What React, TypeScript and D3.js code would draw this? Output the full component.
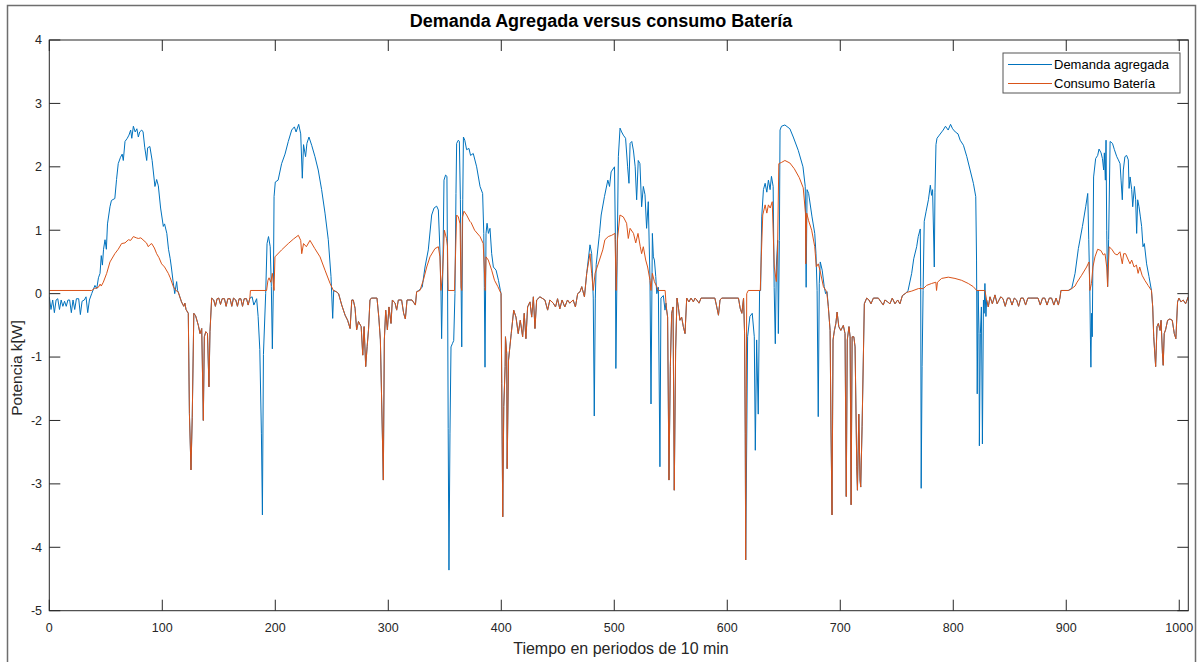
import React from "react";
import * as d3 from "d3";

type Pt = [number, number];

// Eje horizontal: periodos de 10 minutos (7 días = 1008 periodos)
const xTicks = [0, 100, 200, 300, 400, 500, 600, 700, 800, 900, 1000];
const yTicks = [-5, -4, -3, -2, -1, 0, 1, 2, 3, 4];

// ---- Tramos nocturnos: la demanda agregada coincide con el consumo de la batería ----
const noche1: Pt[] = [[117,-0.13],[119,-0.2],[120,-0.15],[121,-0.25],[123,-0.31],[124,-1.89],[125.4,-2.78],[126.5,-1.95],[127.9,-0.31],[129.5,-0.35],[131.9,-0.5],[133.4,-0.63],[134.9,-0.55],[136.3,-2.0],[137.2,-0.68],[138.5,-0.6],[140,-0.63],[141.3,-1.47],[142.2,-0.6],[143.7,-0.07],[145.5,-0.1],[147,-0.2],[148.5,-0.08],[150,-0.07],[151.5,-0.17],[153,-0.08],[155,-0.08],[156.5,-0.2],[158,-0.08],[160,-0.08],[161.5,-0.2],[163,-0.07],[165,-0.1],[166.5,-0.2],[168,-0.08],[169.5,-0.08],[171,-0.2],[172.5,-0.08],[174.5,-0.08],[176,-0.18],[177.5,-0.07]];
const noche2: Pt[] = [[254,0.03],[256,0.0],[258.8,-0.18],[261.8,-0.34],[264,-0.42],[266.2,-0.55],[267.7,-0.1],[269,-0.1],[270.6,-0.23],[272,-0.57],[273.6,-0.44],[276,-0.52],[277.4,-0.97],[278.6,-0.52],[280,-1.15],[281.3,-0.83],[282.5,-0.57],[283.8,-0.1],[285,-0.07],[290,-0.07],[291.6,-0.37],[293,-0.73],[295.6,-2.94],[296.5,-0.73],[297.7,-0.26],[299.2,-0.57],[300.6,-0.21],[302.4,-0.47],[303.6,-0.1],[306,-0.15],[307.4,-0.26],[308.9,-0.1],[311.8,-0.1],[313.6,-0.31],[315.1,-0.4],[316.6,-0.1],[321,-0.1],[324,-0.18],[325.1,0.03]];
const noche3: Pt[] = [[400.4,-1.42],[401.3,-3.52],[402.2,-1.78],[403.4,-1.15],[403.7,-0.68],[404.8,-0.94],[405.2,-2.76],[406.4,-1.05],[407.6,-0.84],[408.8,-0.63],[411,-0.26],[413,-0.37],[415,-0.63],[416.8,-0.42],[418.9,-0.68],[420.3,-0.31],[421.8,-0.71],[423.3,-0.21],[425.4,-0.13],[426.9,-0.37],[428.4,-0.05],[429.8,-0.55],[431.3,-0.1],[434.2,-0.05],[438.6,-0.1],[441,-0.26],[443,-0.1],[446,-0.15],[448,-0.21],[449.8,-0.08],[451.8,-0.24],[453.8,-0.1],[456.2,-0.21],[458.6,-0.1],[460.6,-0.15],[463.6,-0.1],[465.6,-0.21],[467.6,0.0],[469.7,0.03],[471.2,0.11],[473.6,-0.05]];
const noche4: Pt[] = [[546,-0.21],[547.2,-0.37],[548.4,-2.94],[549.6,-1.15],[550.8,-0.31],[552,-0.21],[553.1,-3.1],[554.3,-0.89],[555.5,-0.07],[556.7,-0.21],[558.1,-0.42],[559.6,-0.37],[561.1,-0.52],[562.6,-0.63],[564.1,-0.07],[566.1,-0.13],[567.9,-0.07],[570,-0.13],[571.5,-0.07],[573,-0.1],[575,-0.15],[576.8,-0.07],[589,-0.07],[590.7,-0.21],[592.2,-0.34],[593.6,-0.1],[595.1,-0.07],[609.9,-0.07],[611.4,-0.23],[612.9,-0.31],[614.4,-0.07],[615.3,-0.63],[615.9,-2.2],[616.3,-4.2]];
const noche5: Pt[] = [[689.4,-0.2],[691,-0.58],[691.8,-2.15],[692.7,-3.49],[693.6,-0.73],[694.8,-0.58],[696.1,-0.47],[697.2,-0.29],[698.7,-0.52],[700.5,-0.58],[702.7,-0.5],[704.2,-0.63],[705.3,-3.2],[706.2,-0.73],[707.7,-0.52],[708.7,-0.68],[709.6,-3.33],[710.5,-0.68],[712,-0.68],[713.1,-0.84],[714.6,-2.73],[715.2,-3.1],[716.4,-1.9],[717.5,-2.94],[718.1,-3.05],[719.3,-2.1],[721.3,-0.16],[723.4,-0.07],[725.4,-0.1],[727.2,-0.16],[729.3,-0.07],[733.7,-0.07],[736,-0.13],[738.1,-0.18],[739.5,-0.1],[741.9,-0.13],[744,-0.16],[746,-0.07],[748.4,-0.16],[750.8,-0.1],[752.8,-0.16],[755,-0.03],[757.4,0.0],[758.8,0.02]];
const noche6: Pt[] = [[829.5,-0.1],[831,-0.21],[832.5,-0.05],[834.6,-0.16],[836.9,-0.02],[838.8,-0.16],[840.5,-0.1],[842,-0.05],[844,-0.08],[846,-0.2],[848,-0.07],[850,-0.07],[852,-0.18],[854,-0.07],[856,-0.1],[857.8,-0.2],[859.8,-0.07],[862,-0.07],[864,-0.18],[866,-0.07],[868,-0.07],[875,-0.07],[877,-0.18],[879,-0.07],[881,-0.07],[883,-0.18],[885,-0.07],[887,-0.07],[889,-0.18],[891,-0.07],[893,-0.18],[894.4,-0.07],[895.3,0.05],[901.8,0.05],[904.8,0.08]];
const noche7: Pt[] = [[976.5,-0.21],[977.4,-0.68],[979.1,-1.15],[980.3,-0.52],[981.5,-0.47],[983,-0.58],[983.9,-0.42],[985.1,-0.94],[985.8,-1.13],[986.7,-0.63],[987.9,-0.57],[989.7,-0.42],[991.7,-0.4],[993.8,-0.42],[995.6,-0.63],[997,-0.71],[998.5,-0.13],[999.7,-0.07],[1001.5,-0.13],[1003.5,-0.1],[1005.6,-0.16],[1008,-0.05]];

// ---- Consumo de la batería durante el día ----
const bateriaInicio: Pt[] = [[0,0.05],[37.5,0.05]];
const bateriaDia1: Pt[] = [[40,0.08],[43.4,0.1],[45,0.15],[46,0.12],[47.8,0.18],[50.8,0.32],[53.7,0.5],[58,0.63],[61,0.7],[64,0.79],[67,0.8],[70,0.85],[72,0.84],[74.4,0.9],[77,0.88],[78.8,0.87],[81,0.88],[84.7,0.82],[86,0.8],[87.6,0.74],[89,0.77],[90.6,0.79],[93,0.72],[95,0.63],[97,0.57],[99.4,0.47],[102,0.42],[105.3,0.32],[107,0.25],[109.8,0.11],[112,0.05],[114,0.03]];
const bateriaDia2: Pt[] = [[178,0.05],[192.3,0.05],[193.5,0.21],[194.5,0.25],[196,0.18],[197.4,0.32],[198.9,0.05],[199.7,0.58],[205.6,0.69],[211.5,0.79],[216,0.86],[220.4,0.92],[222.5,0.84],[223.4,0.63],[225,0.79],[227.5,0.74],[230.7,0.84],[235,0.71],[239.6,0.58],[244,0.37],[248.5,0.16],[251.4,0.05]];
const bateriaDia3: Pt[] = [[328,0.05],[331,0.21],[334,0.42],[336.9,0.58],[341.3,0.71],[344.3,0.74],[345.7,0.58],[346.6,0.05],[348,0.3],[349.6,1.0],[351.5,0.87],[352.4,0.75],[353,0.05],[358.6,0.05],[360.5,1.24],[362,1.21],[363.5,1.1],[364.4,0.1],[365,0.05],[365.6,1.2],[367,1.3],[369.3,1.24],[372.2,1.14],[373.3,1.12],[376.4,1.0],[381.2,0.9],[384,0.79],[385.8,0.05],[386.5,0.58],[388.5,0.53],[391.5,0.37],[394,0.21],[397,0.11],[399.8,0.0]];
const bateriaDia4: Pt[] = [[475.6,0.32],[478.5,0.63],[480,0.32],[481.4,0.05],[483,0.32],[486.9,0.53],[489.8,0.69],[491.7,0.85],[494.7,0.9],[497.7,0.92],[500.6,0.95],[501.7,0.05],[502.8,0.85],[505,1.24],[508,1.21],[510.9,1.11],[512.4,0.87],[514,1.03],[517,0.95],[519,0.8],[521,0.95],[523,0.74],[524.2,0.63],[525.7,0.74],[527.8,0.53],[529.5,0.42],[531.6,0.21],[532.5,0.05],[533.7,0.32],[535.5,0.19],[537.6,0.11],[539,0.05],[545,0.05]];
const bateriaDia5: Pt[] = [[617.2,0.0],[618.6,0.05],[629.2,0.05],[630.1,0.58],[631.4,1.24],[633.5,1.4],[635,1.27],[636.4,1.4],[638,1.35],[639.8,1.45],[641.6,0.42],[643.4,0.19],[644.5,0.69],[645.6,2.05],[648.1,2.07],[651,2.1],[655.4,2.06],[659.3,1.97],[663.7,1.83],[667.2,1.67],[669.2,1.27],[669.5,0.47],[670.3,1.27],[672,1.15],[674.7,1.0],[677.4,0.74],[678.8,0.42],[680.5,0.47],[682,0.37],[685.1,0.11],[688,0.03]];
const bateriaDia6: Pt[] = [[763.2,0.04],[769.2,0.08],[773.6,0.08],[776.4,0.13],[780.8,0.16],[784.6,0.18],[785.2,0.05],[786,0.18],[789.7,0.24],[795.6,0.26],[801.5,0.24],[807.4,0.21],[813.3,0.16],[817.7,0.11],[820.7,0.05],[828,0.05]];
const bateriaDia7: Pt[] = [[907.8,0.12],[909.2,0.17],[913.6,0.29],[918,0.42],[920.1,0.5],[920.9,0.05],[922.3,0.16],[923.6,0.42],[925.4,0.58],[927.8,0.7],[930.6,0.68],[932.8,0.61],[934.3,0.63],[935.8,0.42],[936.6,0.11],[937.5,0.53],[938,0.74],[940.7,0.69],[942.8,0.63],[945.1,0.61],[947.5,0.66],[949.6,0.47],[950.8,0.63],[952.5,0.63],[954.9,0.53],[956.4,0.47],[957.9,0.53],[960,0.42],[962.1,0.45],[963.6,0.32],[965,0.42],[967.1,0.29],[969.5,0.21],[972.4,0.13],[975.4,0.05]];

// ---- Demanda agregada durante el día ----
const demandaInicio: Pt[] = [[0,-0.05],[1.5,-0.25],[3,-0.1],[4.5,-0.3],[6,-0.1],[7.5,-0.08],[9,-0.25],[10.5,-0.1],[12,-0.2],[13.5,-0.12],[15,-0.2],[16.5,-0.1],[18,-0.1],[19.5,-0.3],[21,-0.1],[22.5,-0.25],[24,-0.08],[26,-0.08],[27.5,-0.33],[29,-0.12],[31,-0.1],[32.5,-0.05],[34,-0.3],[35.5,-0.1],[37.5,0.0]];
const demandaDia1: Pt[] = [[40.4,0.13],[42,0.08],[43.5,0.25],[44.9,0.32],[46,0.6],[47,0.45],[48,0.7],[49.3,0.85],[50.5,0.7],[51.5,1.1],[53.7,1.37],[55,1.47],[58,1.5],[59.5,1.8],[61,2.05],[63,2.15],[64.5,2.2],[65.5,2.1],[67,2.4],[69,2.45],[70.5,2.5],[72,2.58],[73,2.45],[74.4,2.64],[76,2.55],[77.5,2.6],[78.8,2.47],[80,2.55],[81.8,2.58],[83,2.55],[84.5,2.3],[86.2,2.1],[87,2.3],[89,2.32],[91,2.1],[93.5,1.69],[95,1.8],[96.5,1.7],[98.5,1.35],[100.9,1.06],[102,1.1],[104,0.95],[105.5,0.7],[107,0.55],[108,0.42],[109.5,0.2],[111,0.0],[112.7,0.19],[113.5,0.05],[114,0.03]];
const demandaDia2: Pt[] = [[179.5,-0.05],[181,-0.18],[183.5,-0.08],[184.8,-0.36],[186.3,-0.88],[187.7,-2.2],[188.6,-3.49],[189.5,-0.96],[191.5,0.0],[192.7,0.79],[194,0.9],[195.5,0.74],[196.5,0.11],[197.4,-0.87],[198.3,0.11],[198.9,1.53],[200,1.76],[202.5,1.79],[205.6,2.05],[208.6,2.2],[211.5,2.4],[214.5,2.58],[216.9,2.63],[218.4,2.55],[220.7,2.67],[222.5,2.52],[223.9,1.82],[225,2.35],[226.8,2.16],[228,2.37],[229.8,2.47],[232.2,2.34],[235.1,2.16],[238,1.95],[241,1.64],[244,1.27],[246.9,0.85],[249.3,0.27],[250.8,-0.39],[251.7,0.05]];
const demandaDia3: Pt[] = [[327,0.05],[330,0.1],[332.5,0.42],[335.4,0.69],[338.4,1.24],[340.5,1.35],[342.8,1.38],[344.3,1.32],[345.7,0.69],[346.6,0.06],[347.2,-0.71],[348.4,0.53],[349.3,1.79],[350.7,1.87],[351.9,1.85],[352.4,0.5],[353,-2.13],[353.7,-4.36],[354.6,-2.2],[355.5,-0.84],[356.7,-0.79],[357.9,-0.74],[359,0.0],[359.9,1.58],[360.5,2.37],[362,2.42],[362.9,2.4],[363.8,1.48],[364.4,0.21],[365,-0.84],[365.9,1.48],[366.5,2.47],[367.7,2.42],[369.3,2.27],[371.4,2.29],[372.8,2.18],[375.2,2.21],[378.2,2.0],[381.2,1.69],[383.5,1.58],[384.5,0.95],[385,0.1],[385.6,-1.16],[386.5,0.95],[387.4,1.11],[388.6,0.95],[390,1.03],[391.5,0.63],[393,0.42],[395.4,0.37],[397.5,0.21],[399.2,0.05],[399.8,0.0]];
const demandaDia4: Pt[] = [[475.6,0.32],[478.5,0.77],[480,0.63],[481.4,-0.07],[482.3,-1.93],[483.2,-0.07],[484,0.46],[486.9,0.95],[488.4,1.24],[491.3,1.53],[494.3,1.79],[495.8,1.69],[497.2,1.92],[500.2,2.0],[501,0.85],[501.4,-1.18],[502.5,0.5],[503.6,2.16],[505.1,2.61],[506.5,2.55],[508,2.5],[510,2.45],[511.8,2.0],[513,1.74],[514,2.37],[515.5,2.4],[517,2.25],[518.5,2.0],[519.8,1.48],[521.2,2.1],[522.7,2.05],[524.2,1.37],[525.7,1.69],[527.2,1.56],[528.6,1.03],[530.1,1.45],[531.6,0.21],[532.5,-1.74],[533.7,0.95],[534.6,0.58],[535.5,0.53],[536.7,0.27],[537.6,0.0],[539,0.1],[540.4,-2.73],[541.3,-0.07],[543.4,-0.03],[544.9,-0.26],[545.8,-0.15]];
const demandaDia5: Pt[] = [[618,-0.68],[620,-0.36],[622.1,-0.31],[623.9,-0.68],[624.8,-2.47],[626,-0.73],[627.4,-1.9],[628.6,0.05],[629.5,0.05],[630.5,1.21],[632,1.64],[633.5,1.74],[635,1.6],[636.4,1.79],[637.9,1.64],[639.1,1.85],[640.6,1.69],[641.5,0.1],[642.5,-0.79],[643.4,0.42],[644.6,0.84],[645.2,-0.63],[646.1,0.84],[646.7,2.58],[648,2.64],[651,2.66],[655.4,2.6],[658.4,2.47],[662.8,2.26],[667,2.0],[669,1.69],[669.8,0.1],[670.6,1.64],[672,1.58],[675,1.21],[677.4,0.95],[678.5,0.63],[679.5,0.05],[680.5,-1.94],[681.4,0.16],[682.3,0.5],[684,0.37],[685.8,0.11],[687,0.0],[688.3,0.03]];
const demandaDia6: Pt[] = [[760,0.05],[763.2,0.32],[765,0.55],[767.6,0.74],[769,0.9],[770.8,1.02],[771.2,0.11],[771.6,-3.07],[772.4,-1.15],[773.3,0.05],[774.3,1.14],[776,1.3],[778,1.48],[779.7,1.71],[780.8,1.55],[781.7,1.64],[783.2,0.42],[783.8,1.6],[784.7,2.35],[785.6,2.45],[787.7,2.5],[789.8,2.55],[791.1,2.58],[793.1,2.64],[795.5,2.58],[797.6,2.67],[799.4,2.6],[801.8,2.55],[804.2,2.52],[806.1,2.42],[809,2.34],[812,2.16],[814.9,1.95],[817.8,1.74],[819.9,1.53],[820.6,0.53],[821.2,-1.58],[822,0.05],[822.8,-0.63],[823.1,-2.4],[824,-0.63],[824.9,-0.21],[825.8,-2.37],[826.7,-0.1],[827.3,-0.31],[828,0.16],[828.9,-0.36]];
const demandaDia7: Pt[] = [[907.8,0.32],[910.7,0.71],[914.3,1.06],[917.2,1.37],[919,1.58],[919.9,0.85],[920.8,0.11],[921.4,-0.73],[921.8,-1.16],[922.4,-0.31],[923,-0.68],[924.2,1.84],[926,2.13],[927.8,2.18],[929,2.28],[930.8,2.22],[932,2.13],[933.1,1.95],[933.7,2.22],[934.6,1.79],[935.2,2.42],[935.8,1.0],[936.6,0.11],[937.5,0.85],[938.8,2.4],[940.9,2.37],[942.6,2.27],[944.7,2.16],[946.1,2.11],[947.6,2.05],[948.5,1.79],[949.6,1.48],[950.5,1.95],[951.9,2.16],[953.4,2.18],[954.9,2.11],[955.6,1.66],[956.5,1.84],[957.9,1.64],[958.8,1.37],[960.3,1.69],[961.4,1.48],[962.3,0.95],[963.2,1.48],[964.4,1.37],[965.6,1.21],[966.7,1.06],[967.9,0.74],[969.1,0.79],[971.1,0.47],[973.2,0.27],[975.4,0.05]];

const demandaAgregada: Pt[] = [
  ...demandaInicio, ...demandaDia1, ...noche1, ...demandaDia2, ...noche2,
  ...demandaDia3, ...noche3, ...demandaDia4, ...noche4, ...demandaDia5, ...noche5,
  ...demandaDia6, ...noche6, ...demandaDia7, ...noche7,
];
const consumoBateria: Pt[] = [
  ...bateriaInicio, ...bateriaDia1, ...noche1, ...bateriaDia2, ...noche2,
  ...bateriaDia3, ...noche3, ...bateriaDia4, ...noche4, ...bateriaDia5, ...noche5,
  ...bateriaDia6, ...noche6, ...bateriaDia7, ...noche7,
];

const series = [
  { name: "Demanda agregada", color: "#0072BD", data: demandaAgregada },
  { name: "Consumo Batería", color: "#D95319", data: consumoBateria },
];

const FONT = "'Liberation Sans', Arial, Helvetica, sans-serif";
const AXIS = "#262626";

export default function App() {
  const W = 1201;
  const H = 662;
  const left = 49.3, right = 1188.3, top = 40, bottom = 610.7;
  const x = d3.scaleLinear().domain([0, 1008]).range([left, right]);
  const y = d3.scaleLinear().domain([-5, 4]).range([bottom, top]);
  const line = d3.line<Pt>().x((d) => x(d[0])).y((d) => y(d[1]));
  const tick = 11;

  const legX = 1003, legY = 53, legW = 177, legH = 40;

  return (
    <svg
      width={W}
      height={H}
      viewBox={`0 0 ${W} ${H}`}
      style={{ position: "absolute", left: 0, top: 0, background: "#fff" }}
    >
      <rect x={0} y={0} width={W} height={H} fill="#fff" />
      {/* marco de la ventana */}
      <path d={`M7.5,${H} V5.5 H1195.5 V${H}`} fill="none" stroke="#6e6e6e" strokeWidth={1.5} />

      <defs>
        <clipPath id="area">
          <rect x={left} y={top} width={right - left} height={bottom - top} />
        </clipPath>
      </defs>

      <g clipPath="url(#area)">
        {series.map((s) => (
          <path key={s.name} d={line(s.data) ?? ""} fill="none" stroke={s.color} strokeWidth={1} strokeLinejoin="round" />
        ))}
      </g>

      {/* caja de ejes con marcas en los cuatro lados */}
      <rect x={left} y={top} width={right - left} height={bottom - top} fill="none" stroke={AXIS} strokeWidth={1} />
      {xTicks.map((t) => (
        <g key={"x" + t}>
          <line x1={x(t)} x2={x(t)} y1={bottom} y2={bottom - tick} stroke={AXIS} />
          <line x1={x(t)} x2={x(t)} y1={top} y2={top + tick} stroke={AXIS} />
          <text x={x(t)} y={632} textAnchor="middle" fontFamily={FONT} fontSize={12.5} fill={AXIS}>
            {t}
          </text>
        </g>
      ))}
      {yTicks.map((t) => (
        <g key={"y" + t}>
          <line x1={left} x2={left + tick} y1={y(t)} y2={y(t)} stroke={AXIS} />
          <line x1={right} x2={right - tick} y1={y(t)} y2={y(t)} stroke={AXIS} />
          <text x={42} y={y(t)} dy="0.35em" textAnchor="end" fontFamily={FONT} fontSize={12.5} fill={AXIS}>
            {t}
          </text>
        </g>
      ))}

      <text x={601} y={27} textAnchor="middle" fontFamily={FONT} fontSize={18} fontWeight="bold" fill="#000">
        Demanda Agregada versus consumo Batería
      </text>
      <text x={621} y={654} textAnchor="middle" fontFamily={FONT} fontSize={16} fill={AXIS}>
        Tiempo en periodos de 10 min
      </text>
      <text
        transform={`translate(22,368) rotate(-90)`}
        textAnchor="middle"
        fontFamily={FONT}
        fontSize={15.5}
        fill={AXIS}
      >
        Potencia k[W]
      </text>

      {/* leyenda */}
      <rect x={legX} y={legY} width={legW} height={legH} fill="#fff" stroke="#555" strokeWidth={1} />
      {series.map((s, i) => (
        <g key={"l" + s.name}>
          <line x1={legX + 5} x2={legX + 49} y1={legY + 11.5 + i * 19} y2={legY + 11.5 + i * 19} stroke={s.color} strokeWidth={1} />
          <text x={legX + 51} y={legY + 11.5 + i * 19} dy="0.35em" fontFamily={FONT} fontSize={13} fill="#000">
            {s.name}
          </text>
        </g>
      ))}
    </svg>
  );
}
